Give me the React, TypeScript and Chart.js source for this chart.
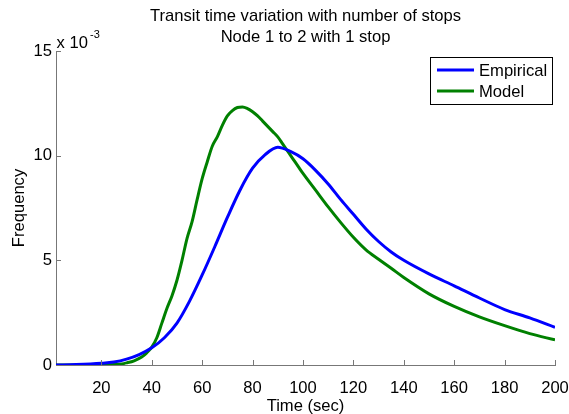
import React, { useEffect, useRef } from 'react';
import { Chart, registerables } from 'chart.js';

Chart.register(...registerables);

const FONT = "'Liberation Sans', Arial, Helvetica, sans-serif";
const FS = 16.6;

const titleLines = ['Transit time variation with number of stops', 'Node 1 to 2 with 1 stop'];
const xAxisTitle = 'Time (sec)';
const yAxisTitle = 'Frequency';
const yExponentBase = 'x 10';
const yExponentPower = '-3';

const xTickValues = [20, 40, 60, 80, 100, 120, 140, 160, 180, 200];
const yTickValues = [0, 5, 10, 15];

const seriesLabels = ['Empirical', 'Model'];
const seriesColors = ['#0000ff', '#008000'];

// frequency values in units of 10^-3
const empiricalTime = [2, 10, 20, 25, 30, 35, 40, 45, 50, 55, 60, 65, 70, 75, 80, 85, 90, 95, 100, 105, 110, 115, 120, 125, 130, 135, 140, 150, 160, 170, 180, 190, 200];
const empiricalFreq = [0.0, 0.02, 0.08, 0.14, 0.28, 0.5, 0.82, 1.3, 2.0, 3.05, 4.3, 5.65, 7.05, 8.35, 9.4, 10.05, 10.4, 10.2, 9.85, 9.3, 8.65, 7.9, 7.2, 6.5, 5.9, 5.4, 5.0, 4.35, 3.78, 3.2, 2.65, 2.25, 1.8];

const modelTime = [2, 10, 20, 25, 28, 30, 33, 36, 38, 40, 42, 44, 46, 48, 50, 52, 54, 56, 58, 60, 62, 64, 66, 68, 70, 72, 74, 76, 78, 80, 82, 84, 86, 88, 90, 92, 94, 96, 98, 100, 105, 110, 115, 120, 125, 130, 135, 140, 150, 160, 170, 180, 190, 200];
const modelFreq = [0.0, 0.0, 0.0, 0.02, 0.05, 0.1, 0.2, 0.38, 0.58, 0.85, 1.3, 2.0, 2.7, 3.3, 4.05, 5.0, 6.05, 6.85, 7.9, 8.9, 9.7, 10.45, 10.9, 11.45, 11.9, 12.15, 12.3, 12.33, 12.25, 12.1, 11.9, 11.65, 11.4, 11.15, 10.9, 10.55, 10.2, 9.85, 9.5, 9.15, 8.35, 7.55, 6.8, 6.1, 5.5, 5.05, 4.62, 4.18, 3.4, 2.8, 2.3, 1.88, 1.5, 1.2];

const decorPlugin = {
  id: 'matlabDecor',
  afterDraw(chart: any) {
    const ctx = chart.ctx;
    const area = chart.chartArea;
    const xs = chart.scales.x;
    const ys = chart.scales.y;
    ctx.save();
    // inward ticks
    ctx.strokeStyle = '#777777';
    ctx.lineWidth = 1;
    ctx.beginPath();
    xTickValues.forEach((v) => {
      const px = Math.round(xs.getPixelForValue(v)) + 0.5;
      ctx.moveTo(px, area.bottom);
      ctx.lineTo(px, area.bottom - 5);
    });
    yTickValues.forEach((v) => {
      const py = Math.round(ys.getPixelForValue(v)) + 0.5;
      ctx.moveTo(area.left, py);
      ctx.lineTo(area.left + 5, py);
    });
    ctx.stroke();

    ctx.fillStyle = '#000000';
    // title
    const cx = (area.left + area.right) / 2;
    ctx.font = `${FS}px ${FONT}`;
    ctx.textAlign = 'center';
    ctx.textBaseline = 'alphabetic';
    ctx.fillText(titleLines[0], cx, 20.5);
    ctx.fillText(titleLines[1], cx, 42.3);
    // x axis title
    ctx.fillText(xAxisTitle, cx, 411);
    // y axis title
    ctx.save();
    ctx.translate(24, (area.top + area.bottom) / 2);
    ctx.rotate(-Math.PI / 2);
    ctx.fillText(yAxisTitle, 0, 0);
    ctx.restore();
    // exponent
    ctx.textAlign = 'left';
    ctx.fillText(yExponentBase, 56.5, 48.3);
    ctx.font = `11px ${FONT}`;
    ctx.fillText(yExponentPower, 90, 38);

    // legend
    const lx = 430.5, ly = 57.5, lw = 122, lh = 47;
    ctx.fillStyle = '#ffffff';
    ctx.fillRect(lx, ly, lw, lh);
    ctx.strokeStyle = '#000000';
    ctx.lineWidth = 1;
    ctx.strokeRect(lx, ly, lw, lh);
    const rows = [70, 91];
    ctx.font = `${FS}px ${FONT}`;
    chart.data.datasets.forEach((ds: any, i: number) => {
      ctx.strokeStyle = ds.borderColor;
      ctx.lineWidth = 3;
      ctx.beginPath();
      ctx.moveTo(437, rows[i]);
      ctx.lineTo(474, rows[i]);
      ctx.stroke();
      ctx.fillStyle = '#000000';
      ctx.textAlign = 'left';
      ctx.textBaseline = 'alphabetic';
      ctx.fillText(ds.label, 479, rows[i] + 6.2);
    });
    ctx.restore();
  },
};

export default function App() {
  const canvasRef = useRef<HTMLCanvasElement | null>(null);

  useEffect(() => {
    if (!canvasRef.current) return;
    const chart = new Chart(canvasRef.current, {
      type: 'line',
      data: {
        datasets: [
          {
            label: seriesLabels[0],
            data: empiricalTime.map((t, i) => ({ x: t, y: empiricalFreq[i] })),
            borderColor: seriesColors[0],
            backgroundColor: seriesColors[0],
            borderWidth: 3,
            pointRadius: 0,
            cubicInterpolationMode: 'monotone',
            fill: false,
          },
          {
            label: seriesLabels[1],
            data: modelTime.map((t, i) => ({ x: t, y: modelFreq[i] })),
            borderColor: seriesColors[1],
            backgroundColor: seriesColors[1],
            borderWidth: 3,
            pointRadius: 0,
            cubicInterpolationMode: 'monotone',
            fill: false,
          },
        ],
      },
      options: {
        animation: false,
        responsive: false,
        devicePixelRatio: 1,
        layout: { padding: { left: 0, right: 14, top: 51, bottom: 0 } },
        plugins: {
          legend: { display: false },
          title: { display: false },
          tooltip: { enabled: false },
        },
        scales: {
          x: {
            type: 'linear',
            min: 2,
            max: 200,
            afterBuildTicks: (s: any) => {
              s.ticks = xTickValues.map((v) => ({ value: v }));
            },
            afterFit: (s: any) => {
              s.height = 49;
              s.paddingLeft = 0;
              s.paddingRight = 0;
            },
            grid: { display: true, drawOnChartArea: false, drawTicks: false },
            border: { display: true, color: '#777777', width: 1 },
            ticks: {
              padding: 13,
              color: '#000000',
              font: { family: FONT, size: FS },
              maxRotation: 0,
              autoSkip: false,
            },
          },
          y: {
            type: 'linear',
            min: 0,
            max: 15,
            afterBuildTicks: (s: any) => {
              s.ticks = yTickValues.map((v) => ({ value: v }));
            },
            afterFit: (s: any) => {
              s.width = 56;
              s.paddingTop = 0;
              s.paddingBottom = 0;
            },
            grid: { display: true, drawOnChartArea: false, drawTicks: false },
            border: { display: true, color: '#777777', width: 1 },
            ticks: {
              padding: 4,
              color: '#000000',
              font: { family: FONT, size: FS },
              autoSkip: false,
            },
          },
        },
      },
      plugins: [decorPlugin],
    } as any);
    return () => chart.destroy();
  }, []);

  return (
    <div style={{ position: 'fixed', left: 0, top: 0, width: 569, height: 414, background: '#ffffff' }}>
      <canvas ref={canvasRef} width={569} height={414} style={{ width: 569, height: 414, display: 'block' }} />
    </div>
  );
}
